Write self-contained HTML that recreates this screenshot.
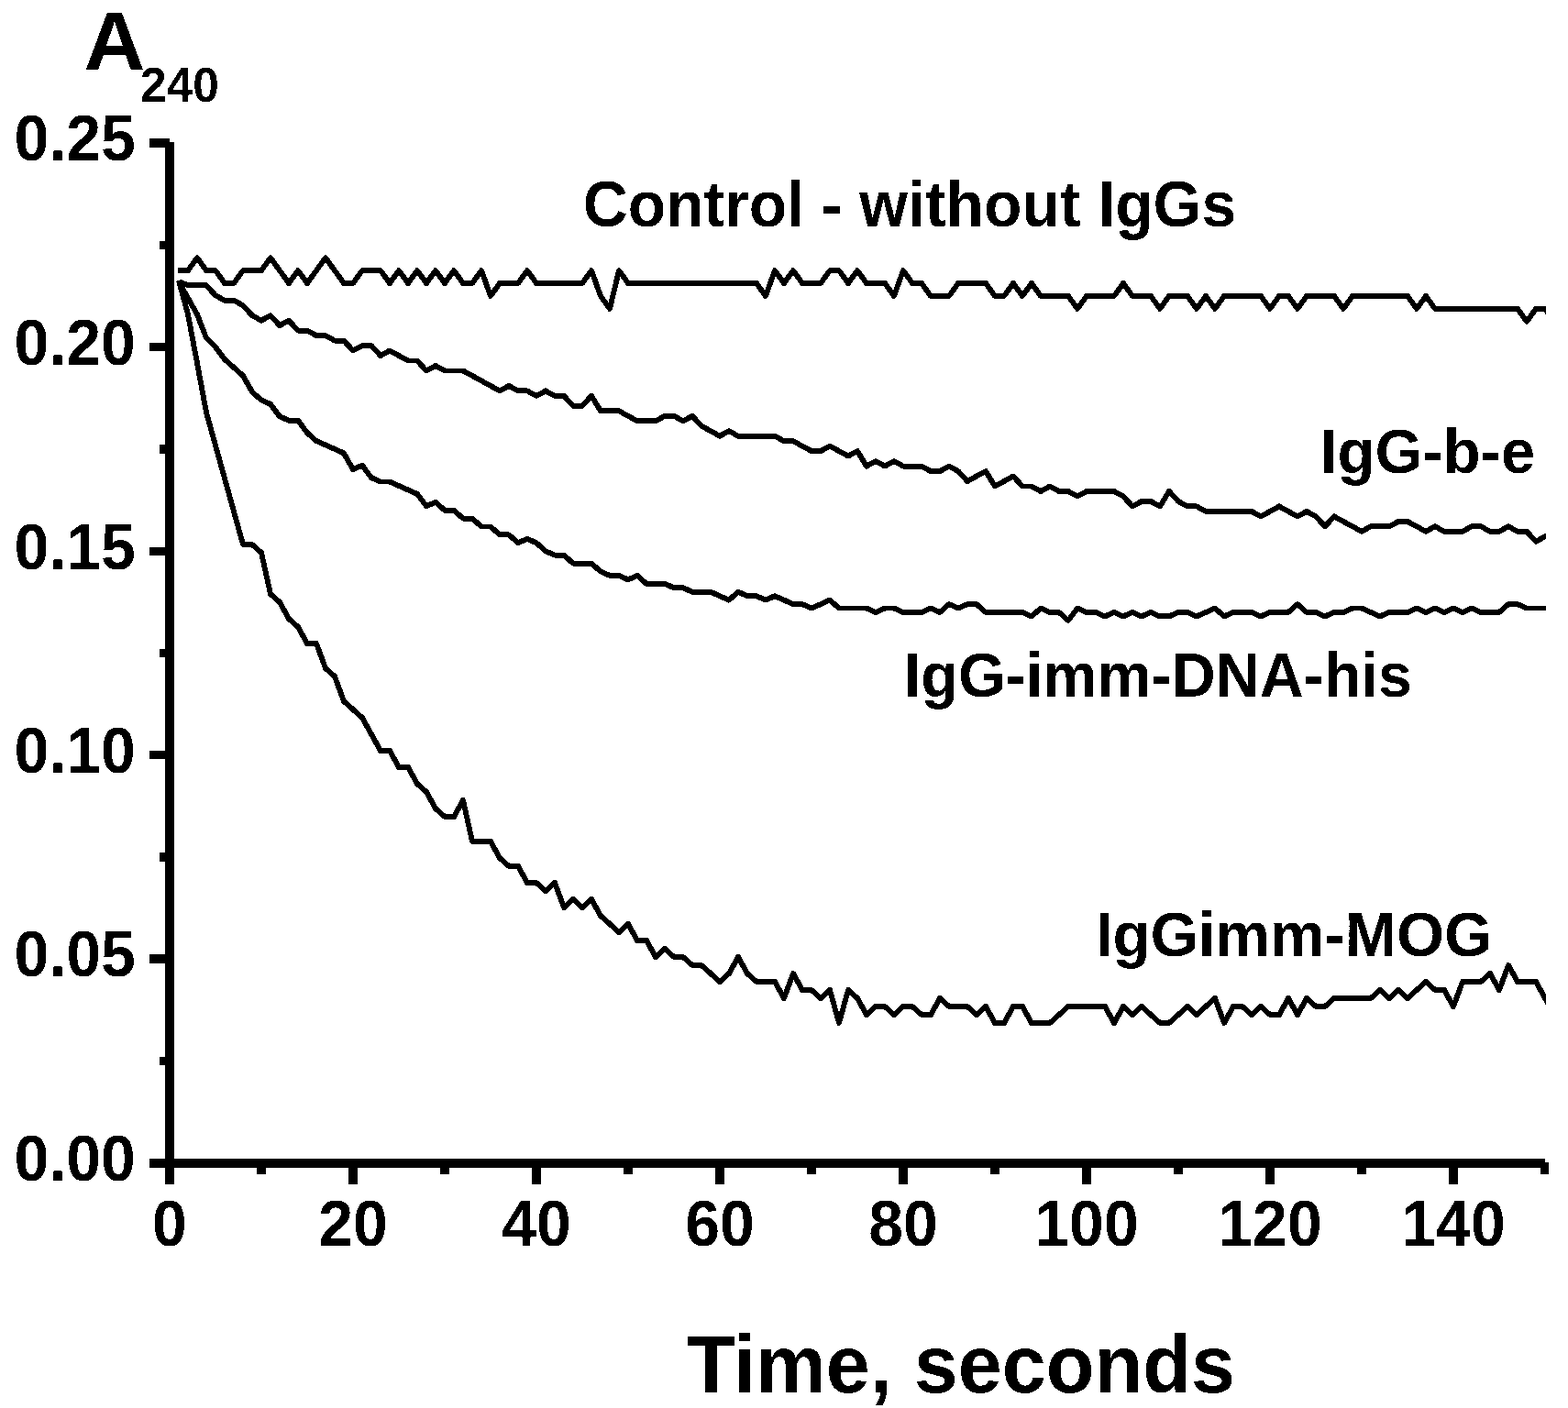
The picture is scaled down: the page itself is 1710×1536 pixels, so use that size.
<!DOCTYPE html>
<html lang="en">
<head>
<meta charset="utf-8">
<title>A240 vs Time</title>
<style>
html,body{margin:0;padding:0;background:#fff;}
body{width:1710px;height:1536px;overflow:hidden;}
svg{display:block;}
text{font-family:"Liberation Sans",sans-serif;font-weight:bold;fill:#000;}
.curves path{fill:none;stroke:#000;stroke-width:5.9;stroke-linejoin:round;stroke-linecap:butt;}
</style>
</head>
<body>
<svg width="1710" height="1536" viewBox="0 0 1710 1536">
<rect x="0" y="0" width="1710" height="1536" fill="#fff"/>
<g fill="#000" shape-rendering="crispEdges">
<rect x="180" y="155" width="10" height="1119"/>
<rect x="180" y="1264" width="1505" height="10"/>
<rect x="163" y="1264" width="22" height="10"/>
<rect x="174" y="1153" width="11" height="9"/>
<rect x="163" y="1041" width="22" height="10"/>
<rect x="174" y="930" width="11" height="10"/>
<rect x="163" y="819" width="22" height="9"/>
<rect x="174" y="708" width="11" height="9"/>
<rect x="163" y="597" width="22" height="9"/>
<rect x="174" y="485" width="11" height="10"/>
<rect x="163" y="374" width="22" height="9"/>
<rect x="174" y="263" width="11" height="9"/>
<rect x="163" y="151" width="22" height="10"/>
<rect x="180" y="1269" width="10" height="23"/>
<rect x="280" y="1269" width="10" height="12"/>
<rect x="380" y="1269" width="10" height="23"/>
<rect x="480" y="1269" width="10" height="12"/>
<rect x="580" y="1269" width="10" height="23"/>
<rect x="680" y="1269" width="10" height="12"/>
<rect x="780" y="1269" width="10" height="23"/>
<rect x="880" y="1269" width="10" height="12"/>
<rect x="980" y="1269" width="10" height="23"/>
<rect x="1080" y="1269" width="10" height="12"/>
<rect x="1180" y="1269" width="10" height="23"/>
<rect x="1280" y="1269" width="10" height="12"/>
<rect x="1380" y="1269" width="10" height="23"/>
<rect x="1480" y="1269" width="10" height="12"/>
<rect x="1580" y="1269" width="10" height="23"/>
<rect x="1680" y="1268" width="9" height="13"/>
</g>
<clipPath id="cp"><rect x="190" y="150" width="1496" height="1114"/></clipPath>
<g class="curves" clip-path="url(#cp)" shape-rendering="crispEdges">
<path d="M194,295.1 L195,295.1 L205,295.1 L215,281.2 L225,295.1 L235,295.1 L245,309 L255,309 L265,295.1 L275,295.1 L285,295.1 L295,281.2 L305,295.1 L315,309 L325,295.1 L335,309 L345,295.1 L355,281.2 L365,295.1 L375,309 L385,309 L395,295.1 L405,295.1 L415,295.1 L425,309 L435,295.1 L445,309 L455,295.1 L465,309 L475,295.1 L485,309 L495,295.1 L505,309 L515,309 L525,295.1 L535,322.9 L545,309 L555,309 L565,309 L575,295.1 L585,309 L595,309 L605,309 L615,309 L625,309 L635,309 L645,295.1 L655,322.9 L665,336.9 L675,295.1 L685,309 L695,309 L705,309 L715,309 L725,309 L735,309 L745,309 L755,309 L765,309 L775,309 L785,309 L795,309 L805,309 L815,309 L825,309 L835,322.9 L845,295.1 L855,309 L865,295.1 L875,309 L885,309 L895,309 L905,295.1 L915,295.1 L925,309 L935,295.1 L945,309 L955,309 L965,309 L975,322.9 L985,295.1 L995,309 L1005,309 L1015,322.9 L1025,322.9 L1035,322.9 L1045,309 L1055,309 L1065,309 L1075,309 L1085,322.9 L1095,322.9 L1105,309 L1115,322.9 L1125,309 L1135,322.9 L1145,322.9 L1155,322.9 L1165,322.9 L1175,336.9 L1185,322.9 L1195,322.9 L1205,322.9 L1215,322.9 L1225,309 L1235,322.9 L1245,322.9 L1255,322.9 L1265,336.9 L1275,322.9 L1285,322.9 L1295,322.9 L1305,336.9 L1315,322.9 L1325,336.9 L1335,322.9 L1345,322.9 L1355,322.9 L1365,322.9 L1375,322.9 L1385,336.9 L1395,322.9 L1405,322.9 L1415,336.9 L1425,322.9 L1435,322.9 L1445,322.9 L1455,322.9 L1465,336.9 L1475,322.9 L1485,322.9 L1495,322.9 L1505,322.9 L1515,322.9 L1525,322.9 L1535,322.9 L1545,336.9 L1555,322.9 L1565,336.9 L1575,336.9 L1585,336.9 L1595,336.9 L1605,336.9 L1615,336.9 L1625,336.9 L1635,336.9 L1645,336.9 L1655,336.9 L1665,350.8 L1675,336.9 L1685,336.9 L1695,350.8"/>
<path d="M195,307.2 L205,311.3 L215,311.3 L225,311.3 L235,322.3 L245,327.7 L255,327.7 L265,333.2 L275,344.2 L285,349.7 L295,344.2 L305,355.1 L315,349.7 L325,360.6 L335,360.6 L345,366.1 L355,366.1 L365,371.6 L375,371.6 L385,382.5 L395,377.1 L405,377.1 L415,388 L425,382.5 L435,388 L445,393.5 L455,393.5 L465,404.5 L475,399 L485,404.5 L495,404.5 L505,404.5 L515,409.9 L525,415.4 L535,420.9 L545,426.4 L555,420.9 L565,426.4 L575,426.4 L585,431.9 L595,426.4 L605,431.9 L615,431.9 L625,442.8 L635,442.8 L645,431.9 L655,448.3 L665,448.3 L675,448.3 L685,453.8 L695,459.3 L705,459.3 L715,459.3 L725,453.8 L735,453.8 L745,459.3 L755,453.8 L765,464.7 L775,470.2 L785,475.7 L795,470.2 L805,475.7 L815,475.7 L825,475.7 L835,475.7 L845,475.7 L855,481.2 L865,481.2 L875,486.7 L885,492.1 L895,492.1 L905,486.7 L915,492.1 L925,497.6 L935,492.1 L945,508.6 L955,503.1 L965,508.6 L975,503.1 L985,508.6 L995,508.6 L1005,508.6 L1015,514.1 L1025,514.1 L1035,508.6 L1045,514.1 L1055,525 L1065,519.5 L1075,514.1 L1085,530.5 L1095,525 L1105,519.5 L1115,530.5 L1125,530.5 L1135,536 L1145,530.5 L1155,536 L1165,536 L1175,541.5 L1185,536 L1195,536 L1205,536 L1215,536 L1225,541.5 L1235,552.4 L1245,546.9 L1255,546.9 L1265,552.4 L1275,536 L1285,546.9 L1295,552.4 L1305,552.4 L1315,557.9 L1325,557.9 L1335,557.9 L1345,557.9 L1355,557.9 L1365,557.9 L1375,563.4 L1385,557.9 L1395,552.4 L1405,557.9 L1415,563.4 L1425,557.9 L1435,563.4 L1445,574.3 L1455,563.4 L1465,568.9 L1475,574.3 L1485,579.8 L1495,574.3 L1505,574.3 L1515,574.3 L1525,568.9 L1535,568.9 L1545,574.3 L1555,579.8 L1565,574.3 L1575,579.8 L1585,579.8 L1595,579.8 L1605,574.3 L1615,574.3 L1625,579.8 L1635,579.8 L1645,574.3 L1655,579.8 L1665,579.8 L1675,590.8 L1685,585.3 L1689,583.1"/>
<path d="M195,307.4 L205,325.2 L215,343 L225,368.8 L235,378.6 L245,392 L255,400.9 L265,409.8 L275,427.6 L285,436.5 L295,440.9 L305,454.3 L315,458.7 L325,458.7 L335,472.1 L345,481 L355,485.4 L365,489.9 L375,494.4 L385,512.2 L395,507.7 L405,521.1 L415,525.5 L425,525.5 L435,530 L445,534.4 L455,538.9 L465,552.2 L475,547.8 L485,556.7 L495,556.7 L505,565.6 L515,565.6 L525,574.5 L535,574.5 L545,583.4 L555,583.4 L565,592.3 L575,587.8 L585,592.3 L595,601.2 L605,605.6 L615,605.6 L625,614.6 L635,614.6 L645,614.6 L655,623.5 L665,627.9 L675,627.9 L685,632.4 L695,627.9 L705,636.8 L715,636.8 L725,636.8 L735,641.3 L745,641.3 L755,645.7 L765,645.7 L775,645.7 L785,650.2 L795,654.6 L805,645.7 L815,650.2 L825,650.2 L835,654.6 L845,650.2 L855,654.6 L865,659.1 L875,659.1 L885,663.5 L895,659.1 L905,654.6 L915,663.5 L925,663.5 L935,663.5 L945,663.5 L955,668 L965,663.5 L975,663.5 L985,668 L995,668 L1005,668 L1015,663.5 L1025,668 L1035,659.1 L1045,663.5 L1055,659.1 L1065,659.1 L1075,668 L1085,668 L1095,668 L1105,668 L1115,668 L1125,672.4 L1135,663.5 L1145,668 L1155,668 L1165,676.9 L1175,663.5 L1185,668 L1195,668 L1205,672.4 L1215,668 L1225,672.4 L1235,668 L1245,672.4 L1255,668 L1265,672.4 L1275,672.4 L1285,668 L1295,668 L1305,672.4 L1315,668 L1325,663.5 L1335,672.4 L1345,668 L1355,668 L1365,668 L1375,672.4 L1385,668 L1395,668 L1405,668 L1415,659.1 L1425,668 L1435,668 L1445,672.4 L1455,668 L1465,668 L1475,663.5 L1485,663.5 L1495,668 L1505,672.4 L1515,668 L1525,668 L1535,668 L1545,663.5 L1555,668 L1565,663.5 L1575,668 L1585,663.5 L1595,668 L1605,663.5 L1615,668 L1625,668 L1635,668 L1645,659.1 L1655,659.1 L1665,663.5 L1675,663.5 L1685,663.5 L1689,663.5"/>
<path d="M195,306 L205,342.9 L215,396 L225,450 L235,486 L245,522 L255,558 L265,594 L275,594 L285,603 L295,648 L305,657 L315,675 L325,684 L335,702 L345,702 L355,729 L365,738 L375,765 L385,774 L395,783 L405,801 L415,819 L425,819 L435,837 L445,837 L455,855 L465,864 L475,882 L485,891 L495,891 L505,873 L515,918 L525,918 L535,918 L545,936 L555,945 L565,945 L575,963 L585,963 L595,972 L605,963 L615,990 L625,981 L635,990 L645,981 L655,999 L665,1008 L675,1017 L685,1008 L695,1026 L705,1026 L715,1044 L725,1035 L735,1044 L745,1044 L755,1053 L765,1053 L775,1062 L785,1071 L795,1062 L805,1044 L815,1062 L825,1071 L835,1071 L845,1071 L855,1089 L865,1062 L875,1080 L885,1080 L895,1089 L905,1080 L915,1116 L925,1080 L935,1089 L945,1107 L955,1098 L965,1098 L975,1107 L985,1098 L995,1098 L1005,1107 L1015,1107 L1025,1089 L1035,1098 L1045,1098 L1055,1098 L1065,1107 L1075,1098 L1085,1116 L1095,1116 L1105,1098 L1115,1098 L1125,1116 L1135,1116 L1145,1116 L1155,1107 L1165,1098 L1175,1098 L1185,1098 L1195,1098 L1205,1098 L1215,1116 L1225,1098 L1235,1107 L1245,1098 L1255,1107 L1265,1116 L1275,1116 L1285,1107 L1295,1098 L1305,1107 L1315,1098 L1325,1089 L1335,1116 L1345,1098 L1355,1098 L1365,1107 L1375,1098 L1385,1107 L1395,1107 L1405,1089 L1415,1107 L1425,1089 L1435,1098 L1445,1098 L1455,1089 L1465,1089 L1475,1089 L1485,1089 L1495,1089 L1505,1080 L1515,1089 L1525,1080 L1535,1089 L1545,1080 L1555,1071 L1565,1080 L1575,1080 L1585,1098 L1595,1071 L1605,1071 L1615,1071 L1625,1062 L1635,1080 L1645,1053 L1655,1071 L1665,1071 L1675,1071 L1685,1089 L1689,1096.2"/>
</g>
<filter id="bw" x="0" y="0" width="1710" height="1536" filterUnits="userSpaceOnUse" color-interpolation-filters="sRGB">
<feComponentTransfer><feFuncA type="discrete" tableValues="0 1"/></feComponentTransfer>
</filter>
<g filter="url(#bw)">
<text transform="translate(147.9 1288) scale(1 1.045)" font-size="68" text-anchor="end">0.00</text>
<text transform="translate(147.9 1065) scale(1 1.045)" font-size="68" text-anchor="end">0.05</text>
<text transform="translate(147.9 843) scale(1 1.045)" font-size="68" text-anchor="end">0.10</text>
<text transform="translate(147.9 621) scale(1 1.045)" font-size="68" text-anchor="end">0.15</text>
<text transform="translate(147.9 398) scale(1 1.045)" font-size="68" text-anchor="end">0.20</text>
<text transform="translate(147.9 175) scale(1 1.045)" font-size="68" text-anchor="end">0.25</text>
<text transform="translate(185 1359) scale(1 1.045)" font-size="68" text-anchor="middle">0</text>
<text transform="translate(385 1359) scale(1 1.045)" font-size="68" text-anchor="middle">20</text>
<text transform="translate(585 1359) scale(1 1.045)" font-size="68" text-anchor="middle">40</text>
<text transform="translate(785 1359) scale(1 1.045)" font-size="68" text-anchor="middle">60</text>
<text transform="translate(985 1359) scale(1 1.045)" font-size="68" text-anchor="middle">80</text>
<text transform="translate(1185 1359) scale(1 1.045)" font-size="68" text-anchor="middle">100</text>
<text transform="translate(1385 1359) scale(1 1.045)" font-size="68" text-anchor="middle">120</text>
<text transform="translate(1585 1359) scale(1 1.045)" font-size="68" text-anchor="middle">140</text>
<text transform="translate(91.6 76) scale(1.067 1.041)" font-size="86.7">A</text>
<text transform="translate(153 110.6) scale(1 1.025)" font-size="51.55">240</text>
<text transform="translate(635.7 247.1) scale(1 1.025)" font-size="67.87">Control - without IgGs</text>
<text transform="translate(1440 516) scale(1 1.03)" font-size="66.9">IgG-b-e</text>
<text transform="translate(985.9 760.1) scale(1 1.03)" font-size="66.5">IgG-imm-DNA-his</text>
<text transform="translate(1194.9 1042.8) scale(1 1.03)" font-size="67.1">IgGimm-MOG</text>
<text transform="translate(749 1518.9) scale(1 1.025)" font-size="86.3">Time, seconds</text>
</g>
</svg>
</body>
</html>
